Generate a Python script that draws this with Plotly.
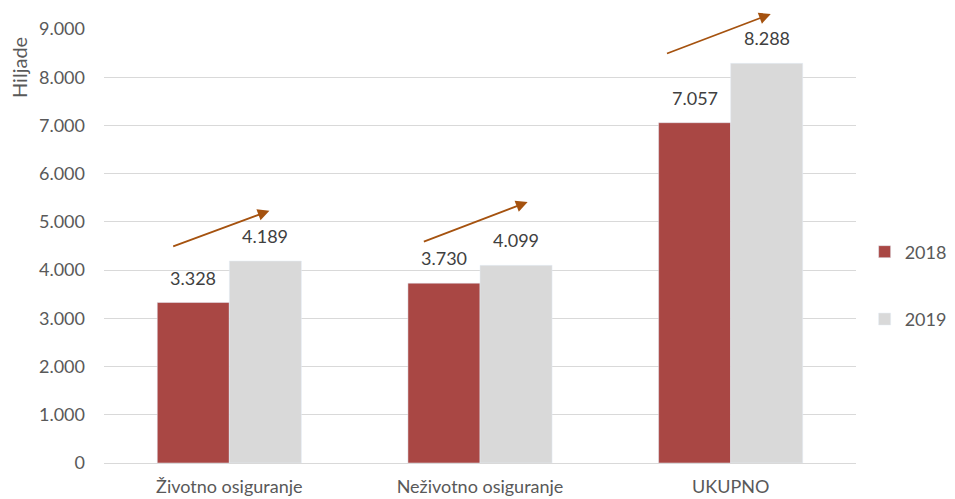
import plotly.graph_objects as go

categories = ["Životno osiguranje", "Neživotno osiguranje", "UKUPNO"]
values_2018 = [3328, 3730, 7057]
values_2019 = [4189, 4099, 8288]
series_names = ["2018", "2019"]
y_ticks = [0, 1000, 2000, 3000, 4000, 5000, 6000, 7000, 8000, 9000]

# decorative trend arrows (category index offset, value) start -> end
arrows = [
    ((-0.23, 4480), (0.16, 5230)),
    ((0.77, 4580), (1.19, 5410)),
    ((1.74, 8480), (2.16, 9310)),
]

RED = "#A94744"
GREY = "#D9D9D9"
TXT = "#595959"
FONT = "Lato, Open Sans, sans-serif"

W, H = 955, 499
L, R, T, B = 96, 107, 21, 44
plot_w = W - L - R
plot_h = H - T - B

fig = go.Figure()
fig.add_trace(go.Bar(x=categories, y=values_2018, name=series_names[0],
                     marker_color=RED, legendgroup="a"))
fig.add_trace(go.Bar(x=categories, y=values_2019, name=series_names[1],
                     marker_color=GREY, legendgroup="b"))

annotations = []
for i, cat in enumerate(categories):
    for v, shift in ((values_2018[i], -36), (values_2019[i], 36)):
        annotations.append(dict(
            x=cat, y=v, xref="x", yref="y", xshift=shift, yshift=12,
            text=f"{v:,}".replace(",", "."), showarrow=False,
            yanchor="bottom", font=dict(size=18, color="#404040", family=FONT)))

for (x0, y0), (x1, y1) in arrows:
    annotations.append(dict(
        x=x1, y=y1, ax=x0, ay=y0, xref="x", yref="y", axref="x", ayref="y",
        showarrow=True, arrowhead=2, arrowsize=1.3, arrowwidth=1.8,
        arrowcolor="#A5520F", text=""))

annotations.append(dict(
    x=(11 - L) / plot_w, y=(T + plot_h - 60) / plot_h,
    xref="paper", yref="paper", xanchor="center", yanchor="middle",
    text="Hiljade", textangle=-90, showarrow=False,
    font=dict(size=20, color=TXT, family=FONT)))

fig.update_layout(
    width=W, height=H,
    margin=dict(l=L, r=R, t=T, b=B),
    plot_bgcolor="white", paper_bgcolor="white",
    separators=",.",
    barmode="group", bargap=0.425, bargroupgap=0,
    font=dict(family=FONT, color=TXT, size=18),
    showlegend=True,
    legend=dict(xref="container", yref="container",
                x=0.897, xanchor="left", y=0.444, yanchor="middle",
                tracegroupgap=41, font=dict(size=18, color=TXT),
                itemwidth=30),
    annotations=annotations,
)
fig.update_xaxes(showgrid=False, showline=True, linecolor=GREY, linewidth=1,
                 ticks="", tickfont=dict(size=18, color=TXT),
                 ticklabelstandoff=7, automargin=False)
fig.update_yaxes(range=[0, 9000], tickvals=y_ticks, tickformat=",d",
                 showgrid=True, gridcolor=GREY, gridwidth=1, zeroline=False,
                 showline=False, tickfont=dict(size=18, color=TXT), ticks="",
                 ticklabelstandoff=18, automargin=False)

fig.write_html("out.html")
